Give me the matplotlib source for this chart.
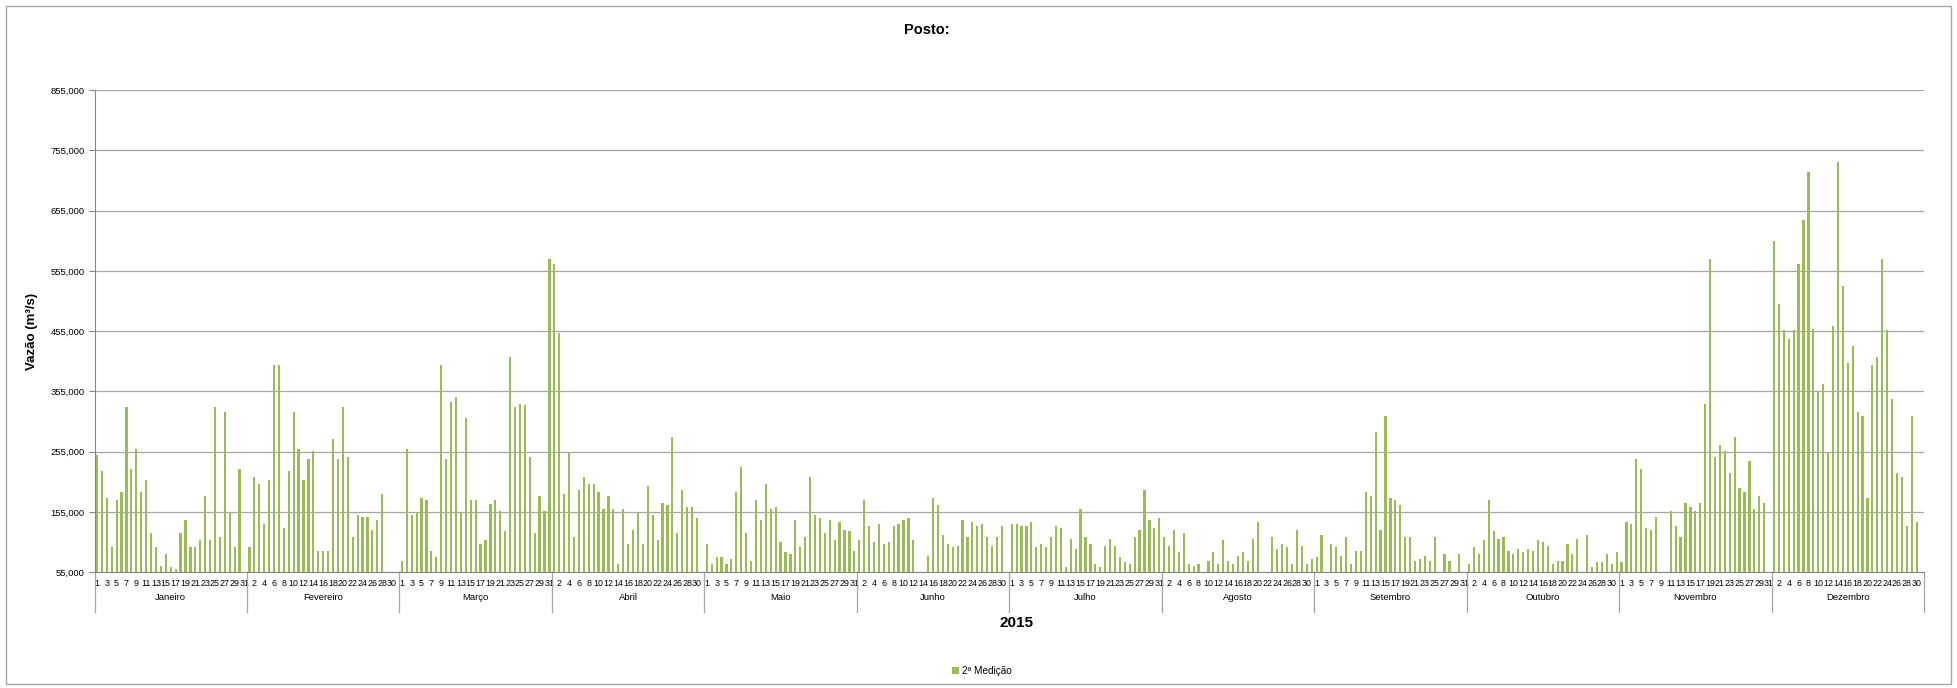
import numpy as np
import matplotlib
matplotlib.use("Agg")
import matplotlib.pyplot as plt
from matplotlib.patches import Patch, Rectangle
import matplotlib.transforms as mtransforms

plt.rcParams['font.family'] = ['Liberation Sans', 'DejaVu Sans']

N = None
months = ["Janeiro", "Fevereiro", "Março", "Abril", "Maio", "Junho", "Julho",
          "Agosto", "Setembro", "Outubro", "Novembro", "Dezembro"]

# daily flow (m³/s), 31 slots per month, None = no measurement / no day
jan = [249600, 223000, 178000, 97000, 175500, 188000, 328600, 226000, 259500, 188000,
       207600, 120000, 97000, 66000, 85000, 63000, 60000, 120000, 142000, 97000,
       97000, 109000, 181600, 109000, 328600, 114000, 321000, 154000, 97000, 226000, N]
fev = [97000, 213700, 201500, 135000, 207600, 398300, 398300, 129000, 223000, 321000,
       259500, 207600, 243500, 256000, 90400, 90400, 90400, 276000, 243500, 328600,
       246800, 114000, 150000, 146800, 146800, 125800, 142000, 185000, N, N, N]
mar = [73800, 259500, 150000, 154000, 178300, 175500, 90400, 79900, 398300, 243500,
       338000, 345800, 154000, 311000, 175500, 175500, 102000, 109000, 168900, 175500,
       156700, 123500, 412000, 328600, 334700, 332000, 246800, 120000, 181600, 156700, 574000]
abr = [566000, 452000, 185000, 253000, 114000, 191000, 213700, 201500, 201500, 188000,
       160000, 181600, 160000, 68300, 160000, 102000, 125800, 154000, 102000, 198000,
       150000, 109000, 169400, 166000, 280000, 120000, 191000, 162800, 162800, 145000, N]
mai = [102000, 68300, 79900, 79900, 68300, 77000, 188000, 229700, 120000, 73800,
       175500, 142000, 201500, 160000, 162800, 105300, 88700, 85400, 142000, 97000,
       114000, 213700, 150000, 145000, 120000, 142000, 109000, 138500, 125800, 123500, 90400]
jun = [109000, 175500, 132400, 105300, 135000, 102000, 105300, 132400, 135000, 142000,
       145000, 109000, N, N, 82000, 178300, 166000, 117000, 102000, 97000,
       98700, 142000, 114000, 138500, 132400, 135000, 114000, 98700, 114000, 132400, N]
jul = [135000, 135000, 132400, 132400, 138500, 97000, 102000, 97000, 114000, 132400,
       129000, 63000, 110800, 93700, 160000, 114000, 102000, 68300, 63000, 98700,
       110800, 98700, 79900, 71600, 68300, 114000, 125800, 191000, 142000, 129000, 145000]
ago = [114000, 98700, 125800, 88700, 120000, 68300, 66000, 68300, N, 73800,
       88700, 68300, 109000, 73800, 68300, 82000, 88700, 73800, 110800, 138500,
       N, N, 114000, 93700, 102000, 97000, 68300, 125800, 98700, 68300, 77000]
setb = [79900, 117000, N, 102000, 97000, 82000, 114000, 68300, 90400, 90400,
        188000, 181600, 287000, 125800, 314800, 178300, 175500, 166000, 114000, 114000,
        73800, 77000, 82000, 73800, 114000, N, 85400, 73800, N, 85400, N]
out = [68300, 97000, 85400, 109000, 175500, 123500, 110800, 114000, 90400, 85400,
       93700, 88700, 93700, 90400, 109000, 105300, 98700, 68300, 73800, 73800,
       102000, 85400, 110800, N, 117000, 63000, 71600, 71600, 85400, 68300, 88700]
nov = [71600, 138500, 135000, 243500, 226000, 129000, 125800, 146800, N, N,
       156700, 132400, 114000, 169400, 162800, 156700, 169400, 334700, 574000, 246800,
       266000, 256000, 219700, 280000, 194900, 188000, 240000, 160000, 181600, 169400, N]
dez = [605000, 500000, 456300, 441400, 456300, 566000, 638800, 719000, 459000, 355700,
       366800, 253000, 463500, 735500, 529300, 402000, 430400, 321000, 314800, 178300,
       398800, 412000, 574000, 456300, 342500, 219700, 213700, 132400, 314800, 138500, N]

series = [jan, fev, mar, abr, mai, jun, jul, ago, setb, out, nov, dez]
yticks = list(range(55000, 855001, 100000))

W, H = 1957, 688
fig = plt.figure(figsize=(W / 100, H / 100), dpi=100)
fig.patch.set_facecolor('white')

left, right, top, bottom = 94.5, 1924, 90, 572.3
ax = fig.add_axes([left / W, 1 - bottom / H, (right - left) / W, (bottom - top) / H])

vals = [v for m in series for v in m]
xs = [i for i, v in enumerate(vals) if v is not None]
hs = [v for v in vals if v is not None]
ax.bar(xs, hs, width=0.45, color='#9BBB59', edgecolor='none', zorder=3)

nslots = len(vals)
ax.set_xlim(-0.5, nslots - 0.5)
ax.set_ylim(yticks[0], yticks[-1])
ax.set_yticks(yticks)
ax.set_yticklabels([f"{t:,}" for t in yticks], fontsize=6.8)
ax.yaxis.grid(True, color='#A6A6A6', linewidth=0.9, zorder=0)
ax.set_axisbelow(True)

dticks = list(range(0, nslots, 2))
ax.set_xticks(dticks)
ax.set_xticklabels([str(i % 31 + 1) for i in dticks], fontsize=6.4)
ax.tick_params(axis='x', length=0, pad=4.5)
ax.tick_params(axis='y', length=4, direction='out', color='#868686', pad=3)

for s in ['top', 'right']:
    ax.spines[s].set_visible(False)
ax.spines['left'].set_color('#868686')
ax.spines['bottom'].set_color('#868686')

trans = mtransforms.blended_transform_factory(ax.transData, ax.transAxes)
ext = -(612 - bottom) / (bottom - top)
for m in range(len(series) + 1):
    ax.plot([31 * m - 0.5, 31 * m - 0.5], [0, ext], transform=trans,
            color='#A6A6A6', linewidth=0.9, clip_on=False)
ylab = -(598 - bottom) / (bottom - top)
for m, name in enumerate(months):
    ax.text(31 * m + 15, ylab, name, transform=trans, ha='center', va='center',
            fontsize=6.8)

fig.text(927 / W, 1 - 30 / H, "Posto:", ha='center', va='center',
         fontsize=10.5, fontweight='bold')
fig.text(32 / W, 1 - 331 / H, "Vazão (m³/s)", ha='center', va='center',
         rotation=90, fontsize=9.5, fontweight='bold')
fig.text(1017 / W, 1 - 623 / H, "2015", ha='center', va='center',
         fontsize=11, fontweight='bold')

fig.legend(handles=[Patch(facecolor='#9BBB59', edgecolor='none')],
           labels=["2ª Medição"], loc='center',
           bbox_to_anchor=(982 / W, 1 - 671 / H), frameon=False, fontsize=7.2,
           handlelength=0.7, handleheight=0.7, handletextpad=0.3)

fig.patches.append(Rectangle((6 / W, 1 - 684 / H), (1951 - 6) / W, (684 - 6) / H,
                             transform=fig.transFigure, fill=False,
                             edgecolor='#A6A6A6', linewidth=1))

fig.savefig("out.png", dpi=100, facecolor='white')
